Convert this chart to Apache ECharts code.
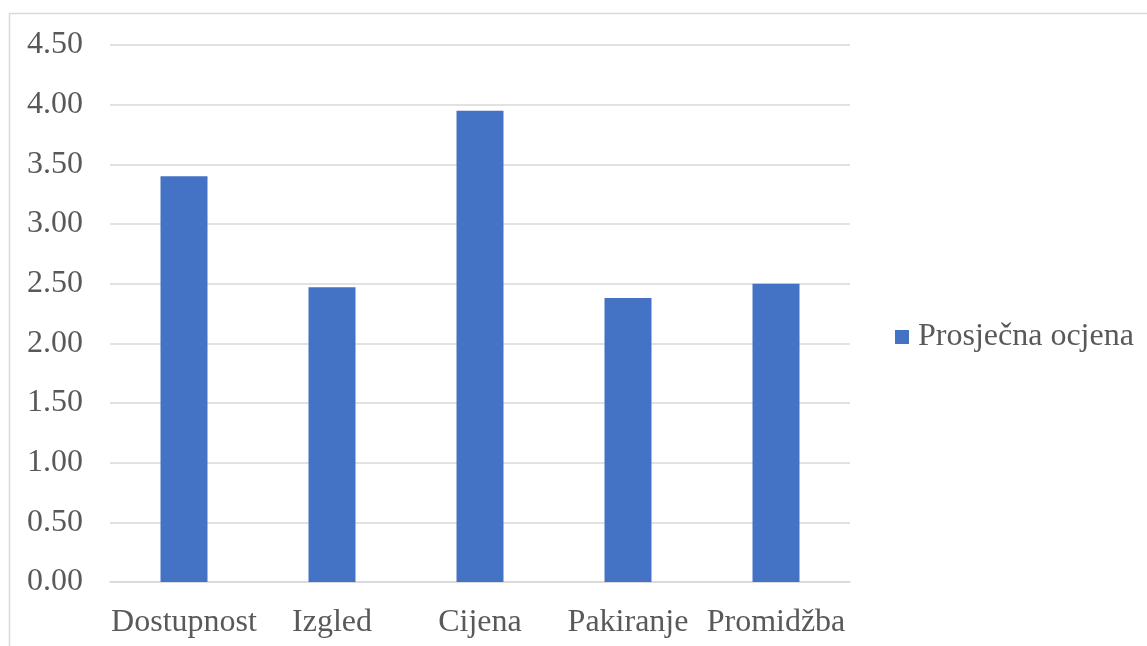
<!DOCTYPE html>
<html>
<head>
<meta charset="utf-8">
<script src="https://cdn.jsdelivr.net/npm/echarts@6/dist/echarts.min.js"></script>
<style>
html,body{margin:0;padding:0;background:#fff;}
#chart{width:1147px;height:646px;}
</style>
</head>
<body>
<div id="chart"></div>
<script>
const categories = ['Dostupnost', 'Izgled', 'Cijena', 'Pakiranje', 'Promidžba'];
const values = [3.40, 2.47, 3.95, 2.38, 2.50];
const seriesName = 'Prosječna ocjena';

const chart = echarts.init(document.getElementById('chart'));
const font = '"Liberation Serif", "Times New Roman", serif';
chart.setOption({
  animation: false,
  backgroundColor: '#fff',
  graphic: [{
    type: 'rect',
    shape: { x: 9.5, y: 13.5, width: 1200, height: 700 },
    style: { fill: 'none', stroke: '#d9d9d9', lineWidth: 1.5 },
    silent: true
  }],
  grid: { left: 110, right: 297, top: 45, bottom: 64 },
  legend: {
    data: [seriesName],
    orient: 'vertical',
    left: 895,
    top: 321,
    padding: 0,
    icon: 'rect',
    itemWidth: 14,
    itemHeight: 14,
    itemGap: 10,
    textStyle: { fontFamily: font, fontSize: 32, color: '#595959', padding: [0, 0, 0, 4] }
  },
  xAxis: {
    type: 'category',
    data: categories,
    axisLine: { lineStyle: { color: '#d9d9d9', width: 1.5 } },
    axisTick: { show: false },
    axisLabel: { fontFamily: font, fontSize: 32, color: '#595959', margin: 25, interval: 0 }
  },
  yAxis: {
    type: 'value',
    min: 0,
    max: 4.5,
    interval: 0.5,
    axisLine: { show: false },
    axisTick: { show: false },
    splitLine: { lineStyle: { color: '#d9d9d9', width: 1.5 } },
    axisLabel: {
      fontFamily: font, fontSize: 32, color: '#595959', margin: 27,
      formatter: v => v.toFixed(2)
    }
  },
  series: [{
    name: seriesName,
    type: 'bar',
    data: values,
    barWidth: 47,
    itemStyle: { color: '#4472C4' }
  }]
});
</script>
</body>
</html>
